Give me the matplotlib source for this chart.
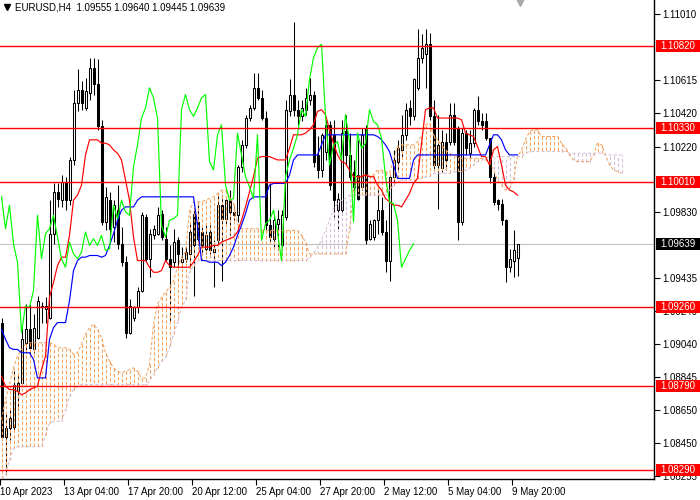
import numpy as np
import matplotlib
matplotlib.use("Agg")
import matplotlib.pyplot as plt
from matplotlib.collections import LineCollection
from matplotlib.patches import Rectangle
from matplotlib.lines import Line2D
import matplotlib.transforms as mtransforms

plt.rcParams['font.family'] = ['Liberation Sans', 'DejaVu Sans']

symbol = "EURUSD,H4"

opens = [1.0917,1.0849,1.0854,1.0855,1.0876,1.0881,1.0905,1.0913,1.0901,1.0908,
         1.0926,1.0925,1.0920,1.0970,1.0995,1.0990,1.1001,1.0990,1.1014,1.1048,
         1.1056,1.1045,1.1054,1.1069,1.1059,1.1034,1.0977,1.0990,1.0974,1.0984,
         1.0964,1.0953,1.0911,1.0920,1.0926,1.0936,1.0980,1.0955,1.0969,1.0970,
         1.0982,1.0967,1.0955,1.0953,1.0966,1.0953,1.0955,1.0958,1.0982,1.0977,
         1.0971,1.0961,1.0971,1.0959,1.0966,1.0987,1.0979,1.0990,1.0983,1.0981,
         1.1010,1.1023,1.1039,1.1045,1.1057,1.1051,1.1039,1.0975,1.0967,1.0976,
         1.0963,1.0980,1.1043,1.1053,1.1044,1.1040,1.1044,1.1050,1.1053,1.1017,
         1.1008,1.1019,1.1035,1.1029,1.0984,1.0984,1.1031,1.1017,1.1007,1.1005,
         1.0998,1.1033,1.0967,1.0968,1.0978,1.0984,1.0971,1.0954,1.1004,1.1013,
         1.1020,1.1029,1.1045,1.1040,1.1057,1.1075,1.1077,1.1083,1.1040,1.1011,
         1.1009,1.1025,1.1025,1.1041,1.1033,1.0977,1.1030,1.1018,1.1024,1.1044,
         1.1037,1.1037,1.1027,1.1004,1.0990,1.0988,1.0978,1.0950,1.0954,1.09555]
highs = [1.0920,1.0863,1.0865,1.0889,1.0886,1.0914,1.0928,1.0928,1.0922,1.0933,
         1.0929,1.0932,1.0990,1.1000,1.1000,1.1005,1.1004,1.1016,1.1056,1.1068,
         1.1061,1.1063,1.1075,1.1075,1.1074,1.1038,1.0998,1.0995,1.0990,1.0999,
         1.0974,1.0957,1.0931,1.0927,1.0938,1.0983,1.0982,1.0973,1.0975,1.0986,
         1.0984,1.0974,1.0963,1.0973,1.0968,1.0962,1.0962,1.0976,1.0984,1.0989,
         1.0974,1.0975,1.0975,1.0966,1.0994,1.0993,1.0991,1.0996,1.0987,1.1011,
         1.1026,1.1041,1.1047,1.1066,1.1066,1.1056,1.1043,1.1000,1.0981,1.0984,
         1.0984,1.1050,1.1062,1.1096,1.1050,1.1050,1.1057,1.1063,1.1055,1.1028,
         1.1030,1.1038,1.1037,1.1038,1.0994,1.1038,1.1041,1.1030,1.1014,1.1026,
         1.1033,1.1035,1.0978,1.0979,1.0998,1.0992,1.0978,1.1005,1.1020,1.1026,
         1.1041,1.1048,1.1050,1.1063,1.1092,1.1089,1.1092,1.1090,1.1050,1.1041,
         1.1032,1.1030,1.1048,1.1048,1.1034,1.1033,1.1032,1.1032,1.1045,1.1052,
         1.1042,1.1042,1.1027,1.1006,1.0991,1.0991,1.0979,1.0961,1.0972,1.09640]
lows = [1.0847,1.0828,1.0847,1.0853,1.0865,1.0880,1.0899,1.0898,1.0899,1.0907,
        1.0917,1.0917,1.0919,1.0964,1.0986,1.0986,1.0984,1.0987,1.1011,1.1043,
        1.1044,1.1044,1.1050,1.1053,1.1032,1.0975,1.0972,1.0966,1.0965,1.0961,
        1.0951,1.0908,1.0910,1.0918,1.0923,1.0935,1.0954,1.0944,1.0967,1.0969,
        1.0966,1.0954,1.0917,1.0950,1.0950,1.0950,1.0953,1.0950,1.0933,1.0963,
        1.0958,1.0958,1.0958,1.0938,1.0963,1.0942,1.0975,1.0969,1.0978,1.0977,
        1.1007,1.1021,1.1037,1.1044,1.1050,1.1038,1.0971,1.0964,1.0962,1.0960,
        1.0960,1.0978,1.1040,1.1040,1.1035,1.1037,1.1041,1.1047,1.1010,1.1003,
        1.1004,1.1014,1.0996,1.0980,1.0973,1.0981,1.1011,1.1002,1.0989,1.0990,
        1.0996,1.0964,1.0966,1.0966,1.0970,1.0969,1.0947,1.0942,1.0999,1.1008,
        1.1016,1.1026,1.1035,1.1038,1.1056,1.1072,1.1057,1.1038,1.1008,1.0985,
        1.1007,1.1008,1.1023,1.1023,1.0966,1.0975,1.1017,1.1015,1.1022,1.1035,
        1.1032,1.1026,1.1000,1.0987,1.0984,1.0975,1.0941,1.0947,1.0944,1.09445]
closes = [1.0849,1.0854,1.0860,1.0880,1.0881,1.0907,1.0913,1.0902,1.0914,1.0930,
          1.0927,1.0927,1.0970,1.0995,1.0991,1.1001,1.0990,1.1014,1.1048,1.1056,
          1.1048,1.1055,1.1069,1.1059,1.1034,1.0977,1.0992,1.0973,1.0987,1.0964,
          1.0953,1.0911,1.0927,1.0926,1.0936,1.0981,1.0955,1.0970,1.0973,1.0981,
          1.0968,1.0955,1.0950,1.0965,1.0958,1.0955,1.0959,1.0971,1.0963,1.0967,
          1.0963,1.0969,1.0960,1.0961,1.0987,1.0979,1.0990,1.0983,1.0981,1.1010,
          1.1023,1.1039,1.1045,1.1057,1.1051,1.1039,1.0975,1.0968,1.0978,1.0979,
          1.0981,1.1044,1.1053,1.1044,1.1040,1.1045,1.1051,1.1053,1.1013,1.1008,
          1.1029,1.1035,1.0999,1.0990,1.0991,1.1030,1.1017,1.1004,1.0998,1.0991,
          1.1029,1.0966,1.0976,1.0978,1.0984,1.0971,1.0954,1.1004,1.1014,1.1021,
          1.1029,1.1044,1.1040,1.1062,1.1075,1.1081,1.1083,1.1040,1.1011,1.1023,
          1.1025,1.1014,1.1041,1.1025,1.0977,1.1030,1.1021,1.1024,1.1044,1.1037,
          1.1035,1.1027,1.1004,1.0989,1.0988,1.0978,1.0950,1.0955,1.0960,1.09639]

tenkan = [1.0885,1.0879,1.0877,1.0877,1.0876,1.0874,1.0875,1.0877,1.0878,1.0879,
          1.0889,1.0897,1.0932,1.0941,1.0951,1.0956,1.0956,1.0969,1.0990,1.0993,
          1.0999,1.1017,1.1026,1.1026,1.1026,1.1024,1.1024,1.1023,1.1020,1.1018,
          1.1014,1.1002,1.0990,1.0968,1.0954,1.0954,1.0954,1.0950,1.0947,1.0947,
          1.0948,1.0954,1.0951,1.0950,1.0950,1.0950,1.0950,1.0950,1.0953,1.0957,
          1.0962,1.0962,1.0962,1.0963,1.0963,1.0965,1.0966,1.0967,1.0968,1.0971,
          1.0978,1.0986,1.0995,1.1004,1.1015,1.1016,1.1016,1.1016,1.1015,1.1014,
          1.1014,1.1014,1.1021,1.1029,1.1029,1.1029,1.1030,1.1032,1.1035,1.1043,
          1.1044,1.1041,1.1032,1.1024,1.1017,1.1013,1.1012,1.1008,1.1004,1.1004,
          1.1004,1.1005,1.1004,1.1004,1.0999,1.0996,1.0991,1.0989,1.0987,1.0987,
          1.0986,1.0990,1.0994,1.1000,1.1003,1.1024,1.1044,1.1045,1.1045,1.1039,
          1.1039,1.1039,1.1039,1.1039,1.1039,1.1038,1.1030,1.1029,1.1028,1.1022,
          1.1016,1.1016,1.1011,1.1020,1.1022,1.1011,1.0999,1.0996,1.0995,1.0993]
kijun = [1.0913,1.0907,1.0902,1.0901,1.0901,1.0899,1.0899,1.0899,1.0895,1.0884,
         1.0884,1.0884,1.0907,1.0914,1.0917,1.0917,1.0917,1.0930,1.0948,1.0954,
         1.0956,1.0956,1.0957,1.0957,1.0957,1.0956,1.0957,1.0963,1.0970,1.0978,
         1.0984,1.0986,1.0986,1.0986,1.0990,1.0992,1.0992,1.0992,1.0992,1.0992,
         1.0992,1.0992,1.0992,1.0992,1.0992,1.0992,1.0992,1.0992,1.0992,1.0975,
         1.0954,1.0954,1.0953,1.0953,1.0953,1.0951,1.0953,1.0957,1.0962,1.0969,
         1.0975,1.0982,1.0990,1.0992,1.0992,1.0992,1.0992,1.0999,1.1000,1.1000,
         1.1000,1.1000,1.1005,1.1014,1.1017,1.1017,1.1017,1.1017,1.1017,1.1017,
         1.1023,1.1029,1.1029,1.1029,1.1029,1.1029,1.1029,1.1029,1.1029,1.1029,
         1.1029,1.1029,1.1029,1.1029,1.1028,1.1026,1.1023,1.1019,1.1011,1.1003,
         1.1003,1.1003,1.1003,1.1014,1.1017,1.1017,1.1017,1.1017,1.1017,1.1017,
         1.1017,1.1017,1.1017,1.1017,1.1017,1.1017,1.1017,1.1017,1.1017,1.1017,
         1.1017,1.1017,1.1023,1.1029,1.1029,1.1026,1.1020,1.1017,1.1017,1.1017]
span_a = [1.0859,1.0871,1.0880,1.0890,1.0897,1.0901,1.0904,1.0905,1.0905,1.0905,
          1.0905,1.0905,1.0905,1.0904,1.0902,1.0902,1.0902,1.0901,1.0898,1.0899,
          1.0904,1.0910,1.0914,1.0916,1.0913,1.0908,1.0899,1.0894,1.0890,1.0888,
          1.0887,1.0888,1.0889,1.0890,1.0888,1.0884,1.0884,1.0892,1.0916,1.0928,
          1.0932,1.0935,1.0938,1.0942,1.0950,1.0956,1.0959,1.0984,1.0989,1.0989,
          1.0989,1.0990,1.0991,1.0992,1.0994,1.0996,1.0996,1.0992,1.0988,1.0976,
          1.0973,1.0973,1.0973,1.0973,1.0973,1.0972,1.0972,1.0972,1.0972,1.0972,
          1.0972,1.0972,1.0972,1.0972,1.0972,1.0969,1.0965,1.0958,1.0958,1.0958,
          1.0958,1.0958,1.0958,1.0958,1.0958,1.0958,1.0958,1.0972,1.0996,1.1004,
          1.1005,1.1005,1.1005,1.1005,1.1008,1.1008,1.1007,1.1006,1.1014,1.1022,
          1.1023,1.1023,1.1023,1.1023,1.1025,1.1028,1.1035,1.1036,1.1029,1.1026,
          1.1023,1.1020,1.1018,1.1017,1.1016,1.1015,1.1015,1.1015,1.1015,1.1015,
          1.1015,1.1014,1.1013,1.1008,1.1002,1.0999,1.0996,1.0997,1.1002,1.1016,
          1.1020,1.1026,1.1031,1.1032,1.1032,1.1028,1.1028,1.1028,1.1028,1.1028,
          1.1024,1.1021,1.1017,1.1014,1.1013,1.1013,1.1013,1.1013,1.1017,1.1024,
          1.1023,1.1017,1.1011,1.1008,1.1007,1.1006]
span_b = [1.0824,1.0826,1.0835,1.0842,1.0843,1.0843,1.0843,1.0843,1.0843,1.0843,
          1.0843,1.0850,1.0857,1.0858,1.0858,1.0858,1.0865,1.0873,1.0877,1.0879,
          1.0880,1.0880,1.0880,1.0880,1.0880,1.0880,1.0880,1.0880,1.0880,1.0880,
          1.0880,1.0880,1.0880,1.0880,1.0880,1.0880,1.0880,1.0882,1.0886,1.0890,
          1.0894,1.0896,1.0902,1.0910,1.0917,1.0926,1.0930,1.0947,1.0951,1.0954,
          1.0954,1.0954,1.0954,1.0954,1.0954,1.0954,1.0954,1.0954,1.0954,1.0954,
          1.0954,1.0954,1.0954,1.0954,1.0954,1.0954,1.0954,1.0954,1.0954,1.0954,
          1.0954,1.0954,1.0954,1.0954,1.0954,1.0954,1.0954,1.0956,1.0958,1.0962,
          1.0966,1.0972,1.0978,1.0985,1.0988,1.0990,1.0991,1.0993,1.0993,1.0993,
          1.0993,1.0993,1.0993,1.0993,1.0993,1.0993,1.0993,1.0996,1.0999,1.1001,
          1.1002,1.1002,1.1002,1.1002,1.1002,1.1003,1.1004,1.1004,1.1006,1.1006,
          1.1006,1.1006,1.1006,1.1007,1.1007,1.1007,1.1008,1.1009,1.1011,1.1013,
          1.1014,1.1015,1.1016,1.1016,1.1016,1.1016,1.1016,1.1016,1.1016,1.1016,
          1.1016,1.1018,1.1019,1.1019,1.1019,1.1019,1.1019,1.1019,1.1019,1.1019,
          1.1019,1.1019,1.1018,1.1018,1.1018,1.1018,1.1018,1.1018,1.1018,1.1018,
          1.1018,1.1017,1.1017,1.1017,1.1017,1.1017]
chikou_shift = 26

levels = [1.10820, 1.10330, 1.10010, 1.09260, 1.08790, 1.08290]
price_ticks = [1.11010, 1.10615, 1.10420, 1.10220, 1.09830,
               1.09435, 1.09240, 1.09040, 1.08845, 1.08650, 1.08450, 1.08255]
time_tick_bars = [0, 16, 32, 48, 64, 80, 96, 112, 128]
time_labels = ["10 Apr 2023", "13 Apr 04:00", "17 Apr 20:00", "20 Apr 12:00",
               "25 Apr 04:00", "27 Apr 20:00", "2 May 12:00", "5 May 04:00", "9 May 20:00"]

W, H = 700, 500
PW, PH = 654, 479
BAR_PX = 4
YMIN, YMAX = 1.08237, 1.11094

fig = plt.figure(figsize=(W / 100, H / 100), dpi=100)
fig.patch.set_facecolor('white')
ax = fig.add_axes([0, (H - PH) / H, PW / W, PH / H])
ax.set_facecolor('white')
x0 = -0.375
ax.set_xlim(x0, x0 + PW / BAR_PX)
ax.set_ylim(YMIN, YMAX)

o = np.array(opens); h = np.array(highs); l = np.array(lows); c = np.array(closes)
n = len(c)
x = np.arange(n)

# candles
wicks = [[(i, l[i]), (i, h[i])] for i in range(n)]
ax.add_collection(LineCollection(wicks, colors='black', linewidths=0.75, zorder=2))
up = c >= o
ax.bar(x, np.abs(c - o), bottom=np.minimum(o, c), width=0.5,
       color=['white' if u else 'black' for u in up], edgecolor='black',
       linewidth=0.75, zorder=2.1)

# cloud
sa = np.array(span_a); sb = np.array(span_b)
m = len(sa)
xs = np.arange(m)
segs = [[(i, sa[i]), (i, sb[i])] for i in range(m)]
cols = ['#F4A460' if sa[i] >= sb[i] else '#D8BFD8' for i in range(m)]
ax.add_collection(LineCollection(segs, colors=cols, linewidths=0.8,
                                 linestyles=[(0, (3, 2))], zorder=3))
ax.plot(xs, sa, color='#F4A460', lw=0.75, ls=(0, (3, 2)), zorder=3)
ax.plot(xs, sb, color='#D8BFD8', lw=0.75, ls=(0, (3, 2)), zorder=3)

# lines
ax.plot(x, tenkan, color='#FF0000', lw=0.85, zorder=4)
ax.plot(x, kijun, color='#0000FF', lw=0.85, zorder=4)
ax.plot(x[:n - chikou_shift], c[chikou_shift:], color='#00FF00', lw=0.85, zorder=4)

# levels
for lv in levels:
    ax.axhline(lv, color='#FF0000', lw=1.0, zorder=5)
ax.axhline(c[-1], color='#C0C0C0', lw=0.8, zorder=1)

# axes styling
for s in ['left', 'top']:
    ax.spines[s].set_visible(False)
for s in ['right', 'bottom']:
    ax.spines[s].set_linewidth(1.0)
    ax.spines[s].set_color('black')

ax.yaxis.tick_right()
ax.set_yticks(price_ticks)
ax.set_yticklabels([f"{v:.5f}" for v in price_ticks])
ax.tick_params(axis='y', direction='out', length=4, width=0.8, labelsize=7, pad=2)
ax.set_xticks([b + x0 for b in time_tick_bars])
ax.set_xticklabels(time_labels, ha='left')
ax.tick_params(axis='x', direction='out', length=4, width=0.8, labelsize=7, pad=2)

bt = mtransforms.blended_transform_factory(ax.transAxes, ax.transData)
box_h = 12 / PH * (YMAX - YMIN)

def price_box(val, fc):
    ax.add_patch(Rectangle((656 / PW, val - box_h / 2), (W - 656) / PW, box_h,
                           transform=bt, facecolor=fc, edgecolor='none',
                           clip_on=False, zorder=6))
    ax.text(660 / PW, val, f"{val:.5f}", transform=bt, color='white', fontsize=7,
            va='center', ha='left', zorder=7, clip_on=False)

for lv in levels:
    price_box(lv, '#FF0000')
price_box(c[-1], 'black')

# header
fig.text(15 / W, 1 - 8 / H,
         f"{symbol}  {o[-1]:.5f} {h[-1]:.5f} {l[-1]:.5f} {c[-1]:.5f}",
         fontsize=7, va='center', ha='left')
fig.add_artist(Line2D([7 / W], [1 - 7 / H], marker='v', color='black',
                      markersize=4, linestyle='none', transform=fig.transFigure))
# chart shift marker
ax.plot([n - 0.5], [1 - 2 / PH], marker='v', color='#A8A8A8', markersize=6,
        linestyle='none', transform=mtransforms.blended_transform_factory(ax.transData, ax.transAxes),
        clip_on=False, zorder=6)

fig.savefig('out.png', dpi=100)
